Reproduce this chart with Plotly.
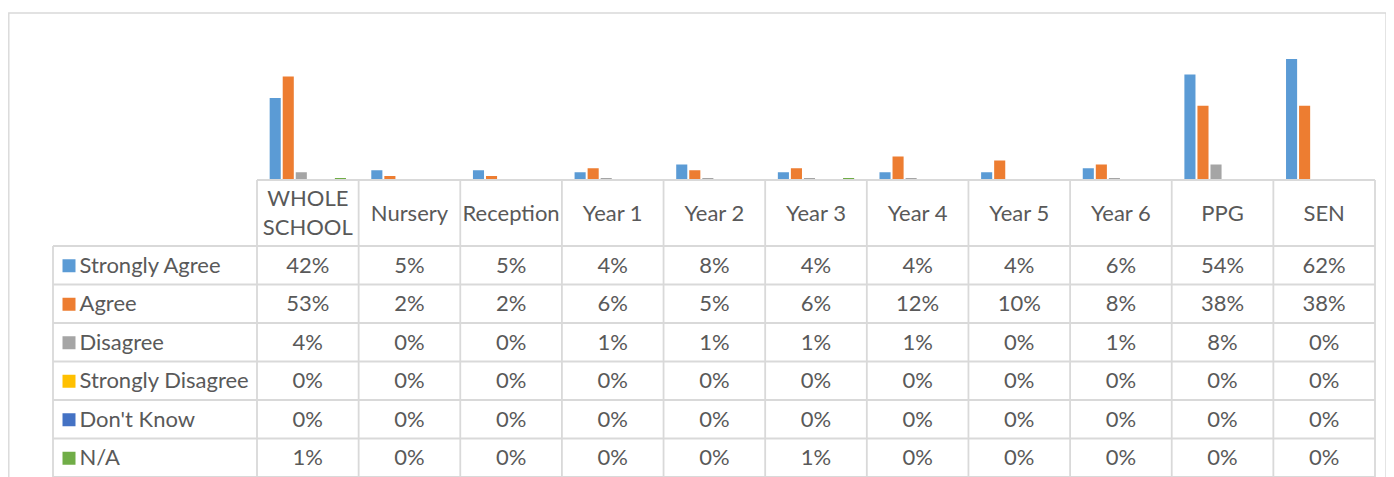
import plotly.graph_objects as go

# ---------------- data ----------------
categories = ["WHOLE SCHOOL", "Nursery", "Reception", "Year 1", "Year 2", "Year 3",
              "Year 4", "Year 5", "Year 6", "PPG", "SEN"]
category_labels = ["WHOLE<br>SCHOOL", "Nursery", "Reception", "Year 1", "Year 2", "Year 3",
                   "Year 4", "Year 5", "Year 6", "PPG", "SEN"]
series_names = ["Strongly Agree", "Agree", "Disagree", "Strongly Disagree", "Don't Know", "N/A"]
strongly_agree = [42, 5, 5, 4, 8, 4, 4, 4, 6, 54, 62]
agree = [53, 2, 2, 6, 5, 6, 12, 10, 8, 38, 38]
disagree = [4, 0, 0, 1, 1, 1, 1, 0, 1, 8, 0]
strongly_disagree = [0, 0, 0, 0, 0, 0, 0, 0, 0, 0, 0]
dont_know = [0, 0, 0, 0, 0, 0, 0, 0, 0, 0, 0]
not_applicable = [1, 0, 0, 0, 0, 1, 0, 0, 0, 0, 0]
series_values = [strongly_agree, agree, disagree, strongly_disagree, dont_know, not_applicable]
series_colors = ["#5B9BD5", "#ED7D31", "#A5A5A5", "#FFC000", "#4472C4", "#70AD47"]

# ---------------- layout geometry (window pixels) ----------------
WIN_W, WIN_H = 1394, 477
OFF = 8                      # default page body margin
W, H = WIN_W - OFF, WIN_H - OFF


def px_x(x):
    return (x - OFF) / W


def px_y(y):
    return 1 - (y - OFF) / H


plot_left, plot_right = 257, 1375
base_y = 180          # bar baseline / table top
plot_top = 43.4
table_left = 53
hdr_bottom = 246
colw = (plot_right - plot_left) / len(categories)
rowh = 38.5
pad = 3
text_dy = 2.0 / rowh

FONT = "Lato"
FS = 22
TXT = "#595959"
GRID = "#d9d9d9"

fig = go.Figure()

# bars
for name, vals, col in zip(series_names, series_values, series_colors):
    fig.add_trace(go.Bar(x=categories, y=vals, name=name, marker_color=col,
                         marker_line_width=0, xaxis="x", yaxis="y", showlegend=False,
                         hovertemplate=name + " %{x}: %{y}%<extra></extra>"))

# table texts
idx = list(range(len(categories)))
hdr_top_u = -0.5 - (hdr_bottom - base_y) / rowh
hdr_center = (hdr_top_u - 0.5) / 2
fig.add_trace(go.Scatter(x=idx, y=[hdr_center + text_dy] * len(idx), text=category_labels,
                         mode="text", textfont=dict(family=FONT, size=FS, color=TXT),
                         xaxis="x2", yaxis="y2", showlegend=False, hoverinfo="skip"))
for r, vals in enumerate(series_values):
    fig.add_trace(go.Scatter(x=idx, y=[r + text_dy] * len(idx), text=[f"{v}%" for v in vals],
                             mode="text", textfont=dict(family=FONT, size=FS, color=TXT),
                             xaxis="x2", yaxis="y2", showlegend=False, hoverinfo="skip"))

key_x = (69 - plot_left) / colw - 0.5
label_x = (79.5 - plot_left) / colw - 0.5
rows = list(range(len(series_names)))
fig.add_trace(go.Scatter(x=[key_x] * len(rows), y=[r + 0.5 / rowh for r in rows], mode="markers",
                         marker=dict(symbol="square", size=13, color=series_colors),
                         xaxis="x2", yaxis="y2", showlegend=False, hoverinfo="skip"))
fig.add_trace(go.Scatter(x=[label_x] * len(rows), y=[r + text_dy for r in rows],
                         text=series_names, mode="text", textposition="middle right",
                         textfont=dict(family=FONT, size=FS, color=TXT),
                         xaxis="x2", yaxis="y2", showlegend=False, hoverinfo="skip"))

# table grid
left_u = -0.5 - (plot_left - table_left) / colw
right_u = len(categories) - 0.5
bottom_u = len(series_names) - 0.5
shapes = []
line = dict(color=GRID, width=1.8)
shapes.append(dict(type="line", xref="x2", yref="y2", x0=-0.5, x1=right_u,
                   y0=hdr_top_u, y1=hdr_top_u, line=line))
for i in range(len(categories) + 1):
    xv = -0.5 + i
    shapes.append(dict(type="line", xref="x2", yref="y2", x0=xv, x1=xv,
                       y0=hdr_top_u, y1=bottom_u + 1, line=line))
shapes.append(dict(type="line", xref="x2", yref="y2", x0=left_u, x1=left_u,
                   y0=-0.5, y1=bottom_u + 1, line=line))
for r in range(len(series_names) + 1):
    yv = -0.5 + r
    shapes.append(dict(type="line", xref="x2", yref="y2", x0=left_u, x1=right_u,
                       y0=yv, y1=yv, line=line))
# chart outer border
shapes.append(dict(type="rect", xref="paper", yref="paper", x0=px_x(8.8), x1=px_x(1386),
                   y0=-0.05, y1=px_y(13), line=dict(color=GRID, width=1.4)))

x2_lo = left_u - pad / colw
x2_hi = right_u + pad / colw
y2_top = hdr_top_u - pad / rowh

fig.update_layout(
    width=W, height=H, margin=dict(l=0, r=0, t=0, b=0),
    paper_bgcolor="white", plot_bgcolor="rgba(0,0,0,0)",
    barmode="group", bargap=0.23, bargroupgap=0.15,
    xaxis=dict(domain=[px_x(plot_left), px_x(plot_right)], visible=False, anchor="y",
               categoryorder="array", categoryarray=categories),
    yaxis=dict(domain=[px_y(base_y), px_y(plot_top)], range=[0, 70], visible=False,
               anchor="x"),
    xaxis2=dict(domain=[px_x(table_left - pad), px_x(plot_right + pad)], range=[x2_lo, x2_hi],
                visible=False, anchor="y2"),
    yaxis2=dict(domain=[0, px_y(base_y - pad)], range=[bottom_u, y2_top],
                visible=False, anchor="x2"),
    shapes=shapes,
)

fig.write_html("out.html")
